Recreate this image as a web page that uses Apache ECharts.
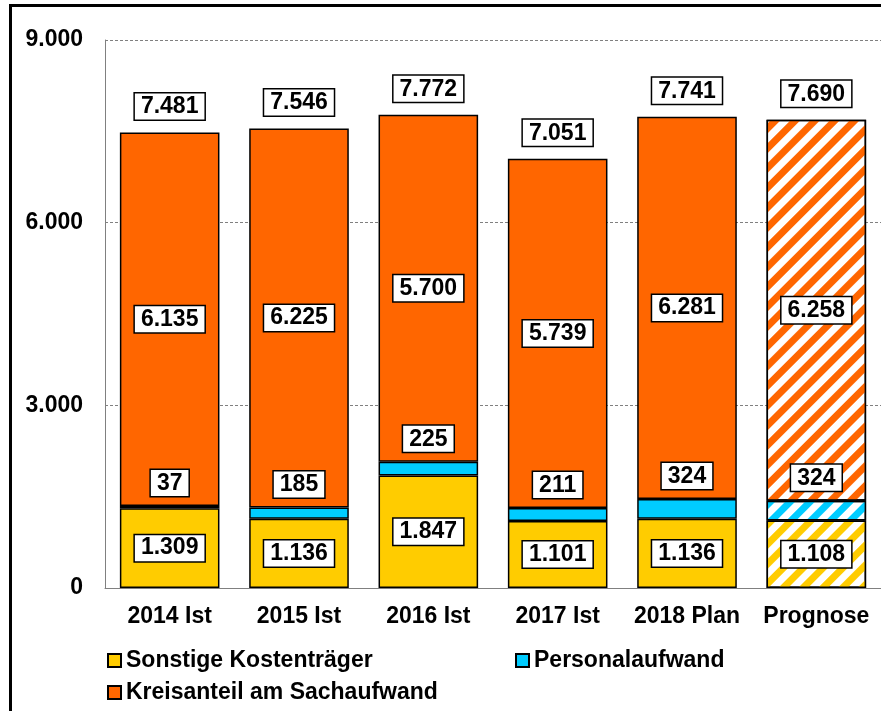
<!DOCTYPE html>
<html>
<head>
<meta charset="utf-8">
<script src="https://cdn.jsdelivr.net/npm/echarts@6/dist/echarts.min.js"></script>
<style>
html,body{margin:0;padding:0;background:#fff;}
#chart{width:881px;height:711px;}
</style>
</head>
<body>
<div id="chart"></div>
<script>
var categories = ['2014 Ist', '2015 Ist', '2016 Ist', '2017 Ist', '2018 Plan', 'Prognose'];
var sonstige = [1309, 1136, 1847, 1101, 1136, 1108];
var personal = [37, 185, 225, 211, 324, 324];
var kreisanteil = [6135, 6225, 5700, 5739, 6281, 6258];
var totals = [7481, 7546, 7772, 7051, 7741, 7690];
var yTicks = [0, 3000, 6000, 9000];
var hatchedIndex = 5;

var YELLOW = '#FFCC00', BLUE = '#00CCFF', ORANGE = '#FF6600';
var FONT = '"Liberation Sans", Arial, sans-serif';

function fmt(v) {
  var s = String(Math.round(v));
  return s.replace(/\B(?=(\d{3})+(?!\d))/g, '.');
}

function hatchData(arr, color) {
  return arr.map(function (v, i) {
    if (i !== hatchedIndex) return v;
    return {
      value: v,
      itemStyle: {
        color: '#ffffff',
        decal: {
          symbol: 'rect',
          symbolSize: 1,
          dashArrayX: [1, 0],
          dashArrayY: [7, 7],
          rotation: -Math.PI / 4,
          color: color
        }
      }
    };
  });
}

var boxLabel = {
  show: true,
  fontFamily: FONT,
  fontWeight: 'bold',
  fontSize: 23,
  lineHeight: 23,
  color: '#000',
  backgroundColor: '#fff',
  borderColor: '#000',
  borderWidth: 1.5,
  padding: [2, 6, 1, 6],
  formatter: function (p) { return fmt(p.value); }
};

var legendText = {fontFamily: FONT, fontWeight: 'bold', fontSize: 23, color: '#000'};

var chart = echarts.init(document.getElementById('chart'), null, {renderer: 'canvas'});
chart.setOption({
  animation: false,
  backgroundColor: '#fff',
  graphic: [{
    type: 'rect',
    shape: {x: 10.5, y: 5.5, width: 900, height: 800},
    style: {fill: 'none', stroke: '#000', lineWidth: 3},
    silent: true,
    z: 100
  }],
  grid: {left: 105, top: 40, width: 784, height: 548, containLabel: false},
  legend: [
    {data: ['Sonstige Kostenträger'], left: 107, top: 649, padding: 0, itemWidth: 13, itemHeight: 13, icon: 'rect', textStyle: legendText},
    {data: ['Personalaufwand'], left: 515, top: 649, padding: 0, itemWidth: 13, itemHeight: 13, icon: 'rect', textStyle: legendText},
    {data: ['Kreisanteil am Sachaufwand'], left: 107, top: 681, padding: 0, itemWidth: 13, itemHeight: 13, icon: 'rect', textStyle: legendText}
  ],
  xAxis: {
    type: 'category',
    data: categories,
    axisLine: {show: true, lineStyle: {color: '#808080', width: 1}},
    axisTick: {show: false},
    axisLabel: {fontFamily: FONT, fontWeight: 'bold', fontSize: 23, color: '#000', margin: 17, interval: 0}
  },
  yAxis: {
    type: 'value',
    min: 0, max: 9000, interval: 3000,
    axisLine: {show: true, lineStyle: {color: '#808080', width: 1}},
    axisTick: {show: false},
    splitLine: {show: true, lineStyle: {color: '#808080', type: [3, 2], width: 1}},
    axisLabel: {
      fontFamily: FONT, fontWeight: 'bold', fontSize: 23, color: '#000', margin: 22,
      formatter: function (v) { return yTicks.indexOf(v) >= 0 ? fmt(v) : ''; }
    }
  },
  series: [
    {
      name: 'Sonstige Kostenträger', type: 'bar', stack: 'a', barCategoryGap: '23%',
      itemStyle: {color: YELLOW, borderColor: '#000', borderWidth: 1.5},
      label: Object.assign({}, boxLabel, {position: 'inside'}),
      data: hatchData(sonstige, YELLOW)
    },
    {
      name: 'Personalaufwand', type: 'bar', stack: 'a',
      itemStyle: {color: BLUE, borderColor: '#000', borderWidth: 1.5},
      label: Object.assign({}, boxLabel, {position: 'top', distance: 10}),
      data: hatchData(personal, BLUE)
    },
    {
      name: 'Kreisanteil am Sachaufwand', type: 'bar', stack: 'a',
      itemStyle: {color: ORANGE, borderColor: '#000', borderWidth: 1.5},
      label: Object.assign({}, boxLabel, {position: 'inside'}),
      data: hatchData(kreisanteil, ORANGE)
    },
    {
      name: 'Gesamt', type: 'bar', stack: 'a',
      itemStyle: {color: 'rgba(0,0,0,0)', borderWidth: 0},
      label: Object.assign({}, boxLabel, {
        position: 'top', distance: 13,
        formatter: function (p) { return fmt(totals[p.dataIndex]); }
      }),
      data: totals.map(function () { return 0; })
    }
  ]
});
</script>
</body>
</html>
